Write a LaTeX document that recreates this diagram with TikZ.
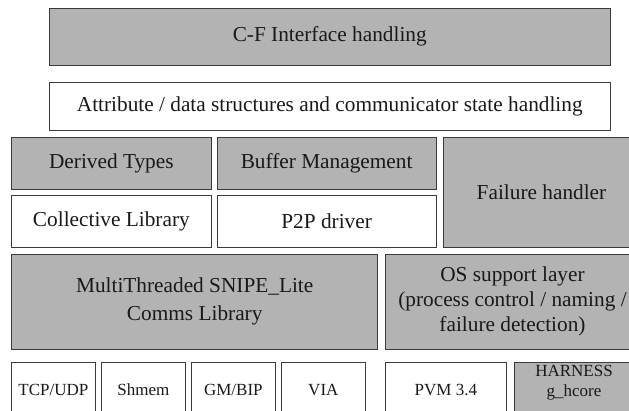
\documentclass[tikz,border=0pt]{standalone}
\usepackage{fontspec}
\setmainfont{Liberation Serif}
\newfontfamily\timesfont{Liberation Serif}
\definecolor{boxgray}{HTML}{B3B3B3}
\definecolor{edgegray}{HTML}{3A3A3A}
\tikzset{
  layer/.style={draw=edgegray, line width=1pt, inner sep=0pt, outer sep=0pt, align=center,
    font=\timesfont\fontsize{21.3}{25}\selectfont, text=black!90},
  grayfill/.style={layer, fill=boxgray},
  whitefill/.style={layer, fill=white},
  small/.style={font=\timesfont\fontsize{17}{20}\selectfont},
  widelines/.style={font=\timesfont\fontsize{21.3}{27.5}\selectfont},
}
\begin{document}
\begin{tikzpicture}[x=1pt,y=-1pt]
\useasboundingbox (0,0) rectangle (629,410);
\fill[white] (0,0) rectangle (629,410);
\begin{scope}
\clip (0,0) rectangle (629,410);
\node[grayfill, minimum width=560.5pt, minimum height=56.5pt] (cf) at (329.75,36.75) {C-F Interface handling};
\node[whitefill, minimum width=560.5pt, minimum height=48pt] (attr) at (329.75,106) {Attribute / data structures and communicator state handling};
\node[grayfill, minimum width=199.3pt, minimum height=52pt] (derived) at (111.35,163) {Derived Types};
\node[grayfill, minimum width=218.7pt, minimum height=52pt] (buffer) at (326.65,163) {Buffer Management};
\node[whitefill, minimum width=199.3pt, minimum height=52pt] (coll) at (111.35,221) {Collective Library};
\node[whitefill, minimum width=218.7pt, minimum height=52pt] (p2p) at (326.65,221) {P2P driver};
\node[grayfill, minimum width=197pt, minimum height=110pt] (fail) at (541.5,192) {Failure handler};
\node[grayfill, widelines, minimum width=366pt, minimum height=95pt] (snipe) at (194.7,301.5) {MultiThreaded SNIPE\_Lite\\Comms Library};
\node[grayfill, minimum width=255pt, minimum height=95pt] (os) at (512.5,301.5) {OS support layer\\(process control / naming /\\failure detection)};
\node[whitefill, small, minimum width=83.3pt, minimum height=54.6pt] (tcp) at (53.35,390) {TCP/UDP};
\node[whitefill, small, minimum width=83.3pt, minimum height=54.6pt] (shmem) at (143.35,390) {Shmem};
\node[whitefill, small, minimum width=83.3pt, minimum height=54.6pt] (gm) at (233.35,390) {GM/BIP};
\node[whitefill, small, minimum width=83.3pt, minimum height=54.6pt] (via) at (323.35,390) {VIA};
\node[whitefill, small, minimum width=121.7pt, minimum height=54.6pt] (pvm) at (445.85,390) {PVM 3.4};
\node[grayfill, small, minimum width=120pt, minimum height=54.6pt] (harness) at (574,390) {};
\node[small, align=center, anchor=north, inner sep=0pt, text=black!90] (harnesslabel) at ([yshift=-2.5pt]harness.north) {HARNESS\\g\_hcore};
\end{scope}
\end{tikzpicture}
\end{document}
